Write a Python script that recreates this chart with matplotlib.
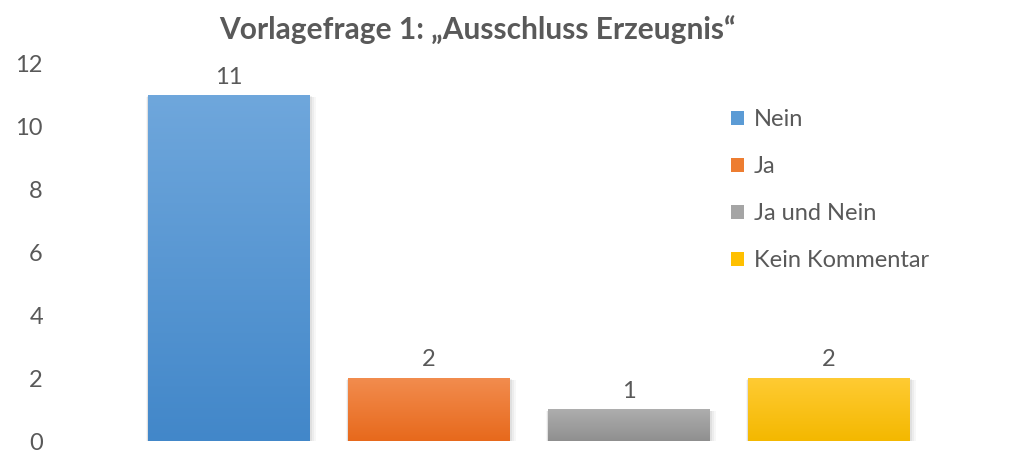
import numpy as np
import matplotlib
matplotlib.use('Agg')
import matplotlib.pyplot as plt
from matplotlib.colors import LinearSegmentedColormap
from matplotlib.patches import Patch

categories = ['Nein', 'Ja', 'Ja und Nein', 'Kein Kommentar']
values = [11, 2, 1, 2]
top_colors = ['#6FA7DC', '#F28C4E', '#AEAEAE', '#FFCB33']
bottom_colors = ['#4287C9', '#E7691C', '#8F8F8F', '#F4B800']
mid_colors = ['#5B9BD5', '#ED7D31', '#A5A5A5', '#FFC000']

plt.rcParams['font.family'] = ['Lato', 'DejaVu Sans']
text_color = '#595959'

fig = plt.figure(figsize=(10.24, 4.70), dpi=100)
ax = fig.add_axes([129 / 1024, 1 - 441 / 470, 800 / 1024, (441 - 64) / 470])

width = 0.81
for i, (v, c_top, c_bot) in enumerate(zip(values, top_colors, bottom_colors)):
    x0, x1 = i - width / 2, i + width / 2
    # soft shadow
    for k, a in enumerate([0.05, 0.04, 0.03]):
        d = 0.012 * (k + 1)
        ax.add_patch(plt.Rectangle((x0 - d * 0.3, -0.02 - d * 3), (x1 - x0) + d * 1.2, v + d * 2,
                                   color='black', alpha=a, lw=0, zorder=1))
    cmap = LinearSegmentedColormap.from_list('g', [c_bot, c_top])
    grad = np.linspace(0, 1, 256).reshape(-1, 1)
    ax.imshow(grad, cmap=cmap, origin='lower', extent=(x0, x1, 0, v),
              aspect='auto', zorder=2, interpolation='bilinear')
    ax.text(i, v + 0.25, str(v), ha='center', va='bottom', fontsize=17, color=text_color)

ax.set_xlim(-0.5, 3.5)
ax.set_ylim(0, 12)
ax.set_yticks(range(0, 13, 2))
ax.set_xticks([])
ax.tick_params(axis='y', length=0, labelsize=17, labelcolor=text_color, pad=62)
for s in ax.spines.values():
    s.set_visible(False)

fig.text(477 / 1024, 1 - 30 / 470, 'Vorlagefrage 1: \u201eAusschluss Erzeugnis\u201c',
         ha='center', va='center', fontsize=21.5, fontweight='bold', color=text_color)

handles = [Patch(facecolor=c, edgecolor='none') for c in mid_colors]
leg = fig.legend(handles, categories, loc='upper left',
                 bbox_to_anchor=(710 / 1024, 1 - 88 / 470), frameon=False,
                 fontsize=17, labelcolor=text_color, handlelength=0.55, handleheight=0.55,
                 handletextpad=0.4, labelspacing=1.1)

fig.savefig('out.png', dpi=100, facecolor='white')
